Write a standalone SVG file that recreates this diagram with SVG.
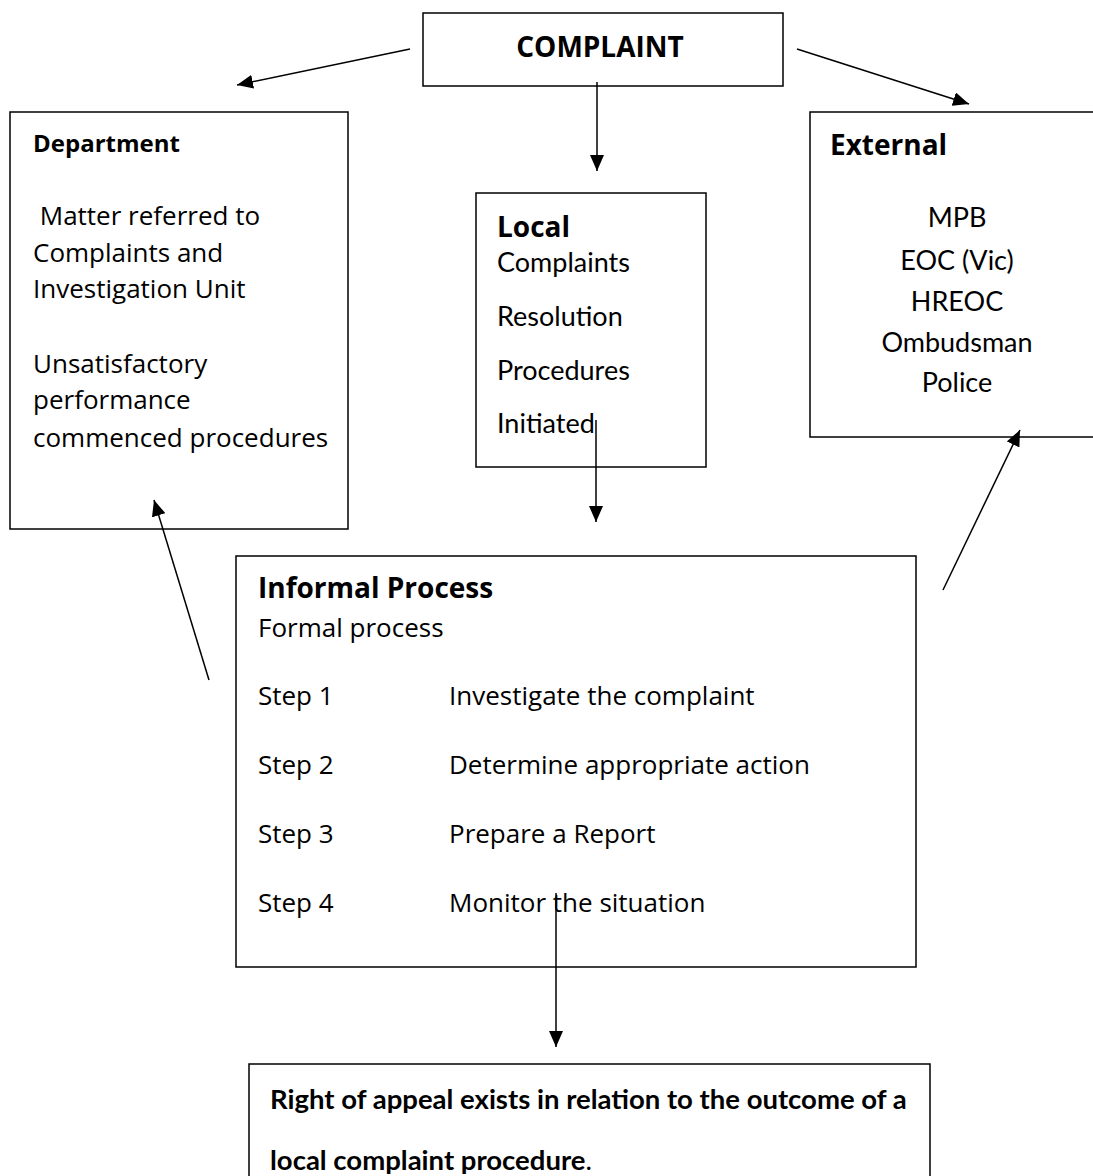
<svg xmlns="http://www.w3.org/2000/svg" width="1093" height="1176" viewBox="0 0 1093 1176">
<style>
.box{fill:#fff;stroke:#000;stroke-width:1.5}
.c{font-family:"Open Sans","DejaVu Sans",sans-serif;font-size:26px;fill:#000}
.cb{font-family:"Open Sans","DejaVu Sans",sans-serif;font-size:28px;font-weight:bold;fill:#000}
.k{font-family:Lato,"Liberation Sans",sans-serif;font-size:27px;fill:#000}
.kb{font-family:Lato,"Liberation Sans",sans-serif;font-size:27.5px;font-weight:bold;fill:#000}
.ln{stroke:#000;stroke-width:1.5;fill:none;marker-end:url(#ah)}
</style>
<defs>
<marker id="ah" viewBox="0 0 16 14" refX="16" refY="7" markerWidth="16" markerHeight="14" markerUnits="userSpaceOnUse" orient="auto">
<path d="M0,0 L16,7 L0,14 Z" fill="#000"/>
</marker>
</defs>
<rect width="1093" height="1176" fill="#fff"/>
<g id="complaint">
<rect class="box" x="423" y="13" width="360" height="73"/>
<text class="cb" x="600" y="57" text-anchor="middle">COMPLAINT</text>
</g>
<g id="department">
<rect class="box" x="10" y="112" width="338" height="417"/>
<text class="cb" x="33" y="152" style="font-size:24px">Department</text>
<text class="c" x="33" y="225" xml:space="preserve"> Matter referred to</text>
<text class="c" x="33" y="262">Complaints and</text>
<text class="c" x="33" y="298">Investigation Unit</text>
<text class="c" x="33" y="373">Unsatisfactory</text>
<text class="c" x="33" y="409">performance</text>
<text class="c" x="33" y="447">commenced procedures</text>
</g>
<g id="local">
<rect class="box" x="476" y="193" width="230" height="274"/>
<text class="cb" x="497" y="237">Local</text>
<text class="k" x="497" y="272">Complaints</text>
<text class="k" x="497" y="326">Resolution</text>
<text class="k" x="497" y="380">Procedures</text>
<text class="k" x="497" y="433">Initiated</text>
</g>
<g id="external">
<rect class="box" x="810" y="112" width="300" height="325"/>
<text class="cb" x="830" y="155">External</text>
<text class="k" x="957" y="227" text-anchor="middle">MPB</text>
<text class="k" x="957" y="270" text-anchor="middle">EOC (Vic)</text>
<text class="k" x="957" y="311" text-anchor="middle">HREOC</text>
<text class="k" x="957" y="352" text-anchor="middle">Ombudsman</text>
<text class="k" x="957" y="392" text-anchor="middle">Police</text>
</g>
<g id="informal">
<rect class="box" x="236" y="556" width="680" height="411"/>
<text class="cb" x="258" y="598">Informal Process</text>
<text class="c" x="258" y="637">Formal process</text>
<text class="c" x="258" y="705">Step 1</text>
<text class="c" x="449" y="705">Investigate the complaint</text>
<text class="c" x="258" y="774">Step 2</text>
<text class="c" x="449" y="774">Determine appropriate action</text>
<text class="c" x="258" y="843">Step 3</text>
<text class="c" x="449" y="843">Prepare a Report</text>
<text class="c" x="258" y="912">Step 4</text>
<text class="c" x="449" y="912">Monitor the situation</text>
</g>
<g id="appeal">
<rect class="box" x="249" y="1064" width="681" height="130"/>
<text class="kb" x="270" y="1109">Right of appeal exists in relation to the outcome of a</text>
<text class="kb" x="270" y="1170">local complaint procedure<tspan font-weight="normal">.</tspan></text>
</g>
<g id="connectors">
<line class="ln" x1="410" y1="49" x2="237" y2="85"/>
<line class="ln" x1="797" y1="49" x2="969" y2="104"/>
<line class="ln" x1="597" y1="82" x2="597" y2="171"/>
<line class="ln" x1="596" y1="420" x2="596" y2="522"/>
<line class="ln" x1="943" y1="590" x2="1020" y2="430"/>
<line class="ln" x1="209" y1="680" x2="154" y2="500"/>
<line class="ln" x1="556" y1="893" x2="556" y2="1047"/>
</g>
</svg>
